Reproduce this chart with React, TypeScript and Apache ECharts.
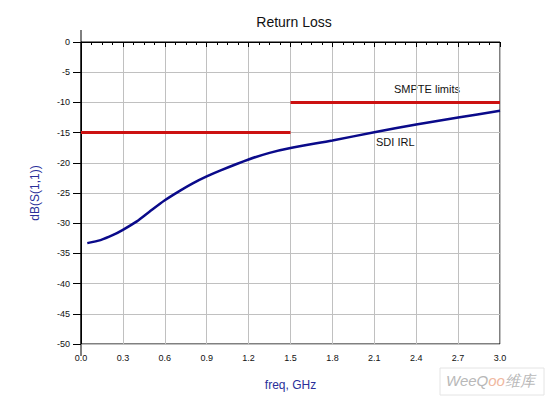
import React, { useEffect, useRef } from "react";
import * as echarts from "echarts";

const freqGHz = [0.045, 0.14, 0.23, 0.3, 0.4, 0.49, 0.6, 0.71, 0.8, 0.9, 1.0, 1.2, 1.35, 1.5, 1.8, 2.1, 2.4, 2.7, 3.0];
const irlDb = [-33.3, -32.8, -31.95, -31.1, -29.7, -28.1, -26.2, -24.6, -23.4, -22.25, -21.25, -19.45, -18.35, -17.55, -16.3, -14.95, -13.65, -12.5, -11.4];
const limitLow = [[0, -15], [1.5, -15]];
const limitHigh = [[1.5, -10], [3.0, -10]];
const title = "Return Loss";
const xName = "freq, GHz";
const yName = "dB(S(1,1))";

export default function App() {
  const ref = useRef<HTMLDivElement>(null);
  useEffect(() => {
    if (!ref.current) return;
    const chart = echarts.init(ref.current, null, { renderer: "svg" });
    const font = "Liberation Sans, Arial, sans-serif";
    chart.setOption({
      animation: false,
      backgroundColor: "#fff",
      title: {
        text: title,
        left: 289,
        top: 10,
        textAlign: "center",
        textStyle: { fontFamily: font, fontSize: 14, fontWeight: "normal", color: "#111" },
      },
      grid: { left: 81, right: 46, top: 42, bottom: 55, show: true, borderColor: "#000", borderWidth: 1 },
      xAxis: {
        type: "value",
        min: 0,
        max: 3,
        interval: 0.3,
        name: xName,
        nameLocation: "middle",
        nameGap: 35,
        nameTextStyle: { fontFamily: font, fontSize: 12, color: "#2a2f9a" },
        axisLine: { lineStyle: { color: "#000" } },
        axisTick: { show: true, length: 5, lineStyle: { color: "#000" } },
        minorTick: { show: true, splitNumber: 4, length: 3, lineStyle: { color: "#000" } },
        axisLabel: { fontFamily: font, fontSize: 9, color: "#111", margin: 9, formatter: (v: number) => v.toFixed(1) },
        splitLine: { show: true, lineStyle: { color: "#c0c0c0", width: 1 } },
      },
      yAxis: {
        type: "value",
        min: -50,
        max: 0,
        interval: 5,
        name: yName,
        nameLocation: "middle",
        nameGap: 40,
        nameTextStyle: { fontFamily: font, fontSize: 12, color: "#2a2f9a" },
        axisLine: { lineStyle: { color: "#000" } },
        axisTick: { show: true, length: 8, lineStyle: { color: "#000" } },
        axisLabel: { fontFamily: font, fontSize: 9, color: "#111", margin: 11 },
        splitLine: { show: true, lineStyle: { color: "#c0c0c0", width: 1 } },
      },
      series: [
        {
          type: "line",
          data: limitLow,
          symbol: "none",
          lineStyle: { color: "#cc1111", width: 3 },
        },
        {
          type: "line",
          data: limitHigh,
          symbol: "none",
          lineStyle: { color: "#cc1111", width: 3 },
        },
        {
          type: "line",
          data: freqGHz.map((f, i) => [f, irlDb[i]]),
          symbol: "none",
          smooth: 0.25,
          lineStyle: { color: "#0a0a8a", width: 2.5 },
        },
      ],
      graphic: [
        { type: "line", shape: { x1: 81, y1: 30, x2: 81, y2: 356 }, style: { stroke: "#000", lineWidth: 1 } },
        { type: "text", x: 394, y: 83, style: { text: "SMPTE limits", fontFamily: font, fontSize: 11, fill: "#111" } },
        { type: "text", x: 376, y: 136, style: { text: "SDI IRL", fontFamily: font, fontSize: 11, fill: "#111" } },
        { type: "rect", shape: { x: 440, y: 368, width: 104, height: 27 }, style: { fill: "#fff", stroke: "#e4e4e4", lineWidth: 1 } },
        {
          type: "text",
          x: 446,
          y: 373,
          style: {
            text: "{a|WeeQ}{b|oo}{a|维库}",
            rich: {
              a: { fontFamily: font, fontSize: 15, fontStyle: "italic", fill: "#b8b8b8", color: "#b8b8b8" },
              b: { fontFamily: font, fontSize: 15, fontStyle: "italic", fill: "#f0b8a0", color: "#f0b8a0" },
            },
          },
        },
      ],
    });
    return () => chart.dispose();
  }, []);
  return <div ref={ref} style={{ width: 546, height: 399, position: "absolute", left: 0, top: 0 }} />;
}
